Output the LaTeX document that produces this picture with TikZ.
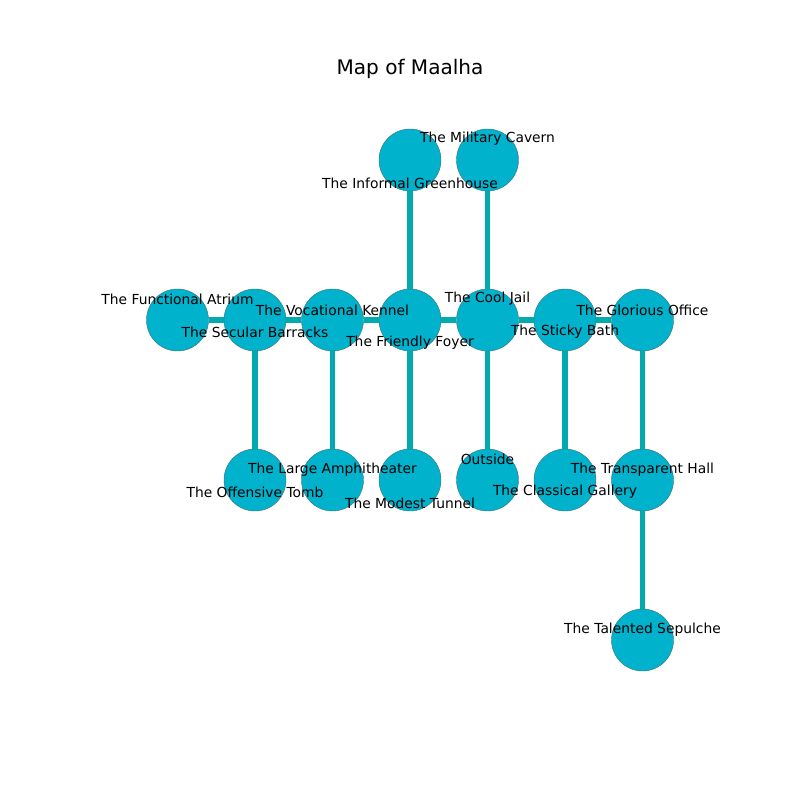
\documentclass[tikz,border=0pt]{standalone}
\usepackage{fontspec}
\setmainfont{DejaVu Sans}
\usetikzlibrary{positioning}
\definecolor{roomfill}{RGB}{0,178,204}
\definecolor{roomedge}{RGB}{60,110,120}
\definecolor{passage}{RGB}{0,170,175}

\begin{document}
\begin{tikzpicture}[node distance=4.064cm and 1.9685cm, on grid,
    room/.style={circle, draw=roomedge, line width=0.3pt, fill=roomfill, minimum size=1.575cm, inner sep=0pt},
    tag/.style={inner sep=0pt, font=\fontsize{10}{12}\selectfont},
    passage/.style={draw=passage, line width=4pt}]
    \useasboundingbox (0,0) rectangle (20.32,20.32);

    % Title
    \node[font=\fontsize{14.5}{17}\selectfont] (title) at (10.414,18.57) {Map of Maalha};

    % Define the rooms
    \node[room] (foyer) at (10.414,12.192) {};
    \node[room, left=of foyer] (kennel) {};
    \node[room, left=of kennel] (barracks) {};
    \node[room, left=of barracks] (atrium) {};
    \node[room, right=of foyer] (jail) {};
    \node[room, right=of jail] (bath) {};
    \node[room, right=of bath] (office) {};
    \node[room, above=of foyer] (greenhouse) {};
    \node[room, above=of jail] (cavern) {};
    \node[room, below=of barracks] (tomb) {};
    \node[room, below=of kennel] (amphitheater) {};
    \node[room, below=of foyer] (tunnel) {};
    \node[room, below=of jail] (outside) {};
    \node[room, below=of bath] (gallery) {};
    \node[room, below=of office] (hall) {};
    \node[room, below=of hall] (sepulche) {};

    % Draw passages between the rooms
    \draw[passage] (atrium) -- (barracks);
    \draw[passage] (barracks) -- (kennel);
    \draw[passage] (kennel) -- (foyer);
    \draw[passage] (foyer) -- (jail);
    \draw[passage] (jail) -- (bath);
    \draw[passage] (bath) -- (office);
    \draw[passage] (greenhouse) -- (foyer);
    \draw[passage] (cavern) -- (jail);
    \draw[passage] (barracks) -- (tomb);
    \draw[passage] (kennel) -- (amphitheater);
    \draw[passage] (foyer) -- (tunnel);
    \draw[passage] (jail) -- (outside);
    \draw[passage] (bath) -- (gallery);
    \draw[passage] (office) -- (hall);
    \draw[passage] (hall) -- (sepulche);

    % Room names
    \node[tag, above=15.2pt of atrium] (atrium-t) {The Functional Atrium};
    \node[tag, below=8.6pt of barracks] (barracks-t) {The Secular Barracks};
    \node[tag, above=7.3pt of kennel] (kennel-t) {The Vocational Kennel};
    \node[tag, below=16.6pt of foyer] (foyer-t) {The Friendly Foyer};
    \node[tag, above=15.2pt of jail] (jail-t) {The Cool Jail};
    \node[tag, below=8.6pt of bath] (bath-t) {The Sticky Bath};
    \node[tag, above=7.3pt of office] (office-t) {The Glorious Office};
    \node[tag, below=16.6pt of greenhouse] (greenhouse-t) {The Informal Greenhouse};
    \node[tag, above=15.2pt of cavern] (cavern-t) {The Military Cavern};
    \node[tag, below=8.6pt of tomb] (tomb-t) {The Offensive Tomb};
    \node[tag, above=7.3pt of amphitheater] (amphitheater-t) {The Large Amphitheater};
    \node[tag, below=16.6pt of tunnel] (tunnel-t) {The Modest Tunnel};
    \node[tag, above=15.2pt of outside] (outside-t) {Outside};
    \node[tag, below=8.6pt of gallery] (gallery-t) {The Classical Gallery};
    \node[tag, above=7.3pt of hall] (hall-t) {The Transparent Hall};
    \node[tag, above=7.3pt of sepulche] (sepulche-t) {The Talented Sepulche};
\end{tikzpicture}
\end{document}
